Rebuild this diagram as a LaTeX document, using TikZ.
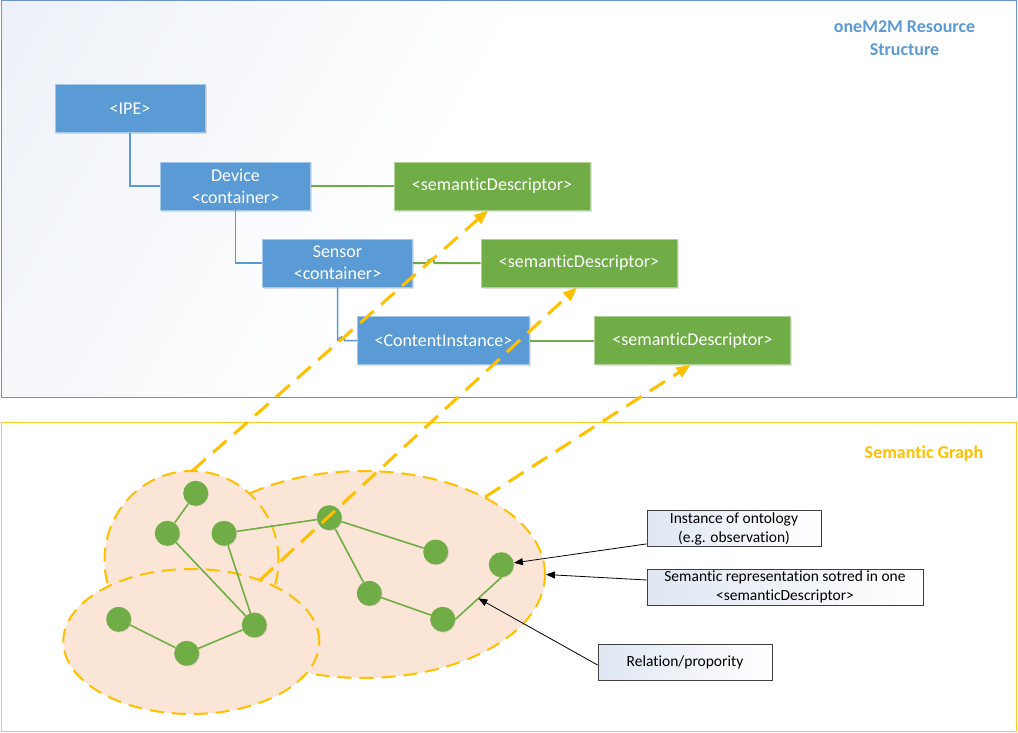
\documentclass[tikz,border=0pt]{standalone}
\usepackage{fontspec}
\setmainfont{Carlito}[Ligatures=NoCommon]
\usetikzlibrary{shapes.geometric,shadows,calc,arrows.meta}
\definecolor{boxblue}{HTML}{5B9BD5}
\definecolor{boxgreen}{HTML}{70AD47}
\definecolor{gold}{HTML}{FFC000}
\definecolor{peach}{HTML}{FBE5D6}
\definecolor{frameblue}{HTML}{6A93C9}
\definecolor{titleblue}{HTML}{5B9BD5}
\definecolor{tint}{HTML}{E3E9F3}
\definecolor{lbtint}{HTML}{DFE7F2}
\pgfdeclarehorizontalshading{topframe}{100bp}{color(0bp)=(tint); color(45bp)=(white); color(100bp)=(white)}
\begin{document}
\begin{tikzpicture}[x=1pt,y=-1pt,
  bluebox/.style={fill=boxblue, draw=boxblue!55!white, line width=0.8pt, text=white,
    font=\fontsize{18}{22}\selectfont, align=center, minimum height=48pt, inner sep=0pt,
    drop shadow={shadow xshift=1.5pt,shadow yshift=-1.5pt,opacity=0.25}},
  greenbox/.style={bluebox, fill=boxgreen, draw=boxgreen!55!white},
  blueline/.style={draw=boxblue, line width=1.5pt},
  greenline/.style={draw=boxgreen, line width=2pt},
  blob/.style={ellipse, fill=peach, draw=gold, line width=2pt, dash pattern=on 14pt off 8pt, inner sep=0pt},
  gnode/.style={circle, fill=boxgreen, minimum size=25pt, inner sep=0pt,
    drop shadow={shadow xshift=0.8pt,shadow yshift=-0.8pt,opacity=0.2}},
  gedge/.style={draw=boxgreen, line width=1.6pt},
  yarrow/.style={draw=gold, line width=3pt, dash pattern=on 18pt off 10pt, -{Triangle[length=14pt,width=11pt]}},
  notebox/.style={draw=black!75, line width=0.8pt, left color=lbtint, right color=white,
    font=\fontsize{15.5}{19}\selectfont, align=center, inner sep=0pt, minimum height=36pt},
  blackarrow/.style={draw=black, line width=0.8pt, -{Triangle[length=9pt,width=7pt]}},
  titletext/.style={font=\bfseries\fontsize{18}{23}\selectfont, align=center}
]
\useasboundingbox (0,0) rectangle (1018,733);

% frames
\shadedraw[shading=topframe, shading angle=-30, draw=frameblue, line width=1pt] (1,1) rectangle (1016,397);
\draw[gold!85, line width=1pt] (1,422) rectangle (1016,731);

\node[titletext, text=titleblue] (t1) at (904.5,38.5) {oneM2M Resource\\Structure};
\node[titletext, text=gold] (t2) at (924,454) {Semantic Graph};

% resource tree
\node[bluebox, minimum width=150pt] (ipe) at (130,108.5) {<IPE>};
\node[bluebox, minimum width=150pt] (dev) at (235.5,186) {Device\\<container>};
\node[bluebox, minimum width=150pt] (sen) at (337.5,263) {Sensor\\<container>};
\node[bluebox, minimum width=172pt] (ci) at (443.5,340.5) {<ContentInstance>};
\node[greenbox, minimum width=196pt] (sd1) at (492,186) {<semanticDescriptor>};
\node[greenbox, minimum width=196pt] (sd2) at (579,263) {<semanticDescriptor>};
\node[greenbox, minimum width=196pt] (sd3) at (692.5,340.5) {<semanticDescriptor>};

\draw[blueline] (ipe.south) |- (dev.west);
\draw[blueline] (dev.south) |- (sen.west);
\draw[blueline] (sen.south) |- (338.8,340.5) .. controls (338.8,335.8) and (344.6,335.8) .. (344.6,340.5) -- (ci.west);
\draw[greenline] (dev.east) -- (sd1.west);
\draw[greenline] (sen.east) -- (427.5,263) .. controls (427.5,258) and (434.5,258) .. (434.5,263) -- (sd2.west);
\draw[greenline] (ci.east) -- (sd3.west);

% semantic graph blobs
\node[blob, minimum width=364pt, minimum height=207pt] (big) at (363,574.5) {};
\node[blob, minimum width=174pt, minimum height=178pt] (ul) at (191.5,560) {};
\node[blob, minimum width=256pt, minimum height=145pt] (low) at (191.3,641.5) {};

% graph nodes
\node[gnode] (n1) at (195.7,493.3) {};
\node[gnode] (n2) at (167.3,533.3) {};
\node[gnode] (n3) at (224,533.3) {};
\node[gnode] (n4) at (329.3,517.7) {};
\node[gnode] (n5) at (435.7,552) {};
\node[gnode] (n6) at (501.3,564.7) {};
\node[gnode] (n7) at (369.3,593.3) {};
\node[gnode] (n8) at (442.7,619.3) {};
\node[gnode] (n9) at (118.7,619.3) {};
\node[gnode] (n10) at (186.7,653.3) {};
\node[gnode] (n11) at (254.3,625) {};

\draw[gedge] (n1) -- (n2);
\draw[gedge] (n2) -- (n11);
\draw[gedge] (n3) -- (n11);
\draw[gedge] (n3) -- (n4);
\draw[gedge] (n4) -- (n5);
\draw[gedge] (n4) -- (n7);
\draw[gedge] (n7) -- (n8);
\draw[gedge] (n8.east) -- (n6.south);
\draw[gedge] (n9) -- (n10);
\draw[gedge] (n10) -- (n11);

% yellow dashed mapping arrows
\coordinate (s1) at (192,471);
\coordinate (s2) at (260,580);
\coordinate (s3) at (485,497);
\draw[yarrow] (s1) -- ([xshift=-4pt]sd1.south);
\draw[yarrow] (s2) -- ([xshift=-2pt]sd2.south);
\draw[yarrow] (s3) -- ([xshift=-2pt]sd3.south);

% notes
\node[notebox, minimum width=174pt] (lb1) at (734,528.5) {Instance of ontology\\(e.g. observation)};
\node[notebox, minimum width=276pt] (lb2) at (785,587) {Semantic representation sotred in one\\<semanticDescriptor>};
\node[notebox, minimum width=174pt] (lb3) at (685,662.5) {Relation/propority};

\draw[blackarrow] ([yshift=3pt]lb1.south west) -- (n6);
\draw[blackarrow] ([yshift=7pt]lb2.west) -- (big.east);
\draw[blackarrow] ([yshift=-2.5pt]lb3.west) -- ($(n8.east)!0.5!(n6.south)$);
\end{tikzpicture}
\end{document}
